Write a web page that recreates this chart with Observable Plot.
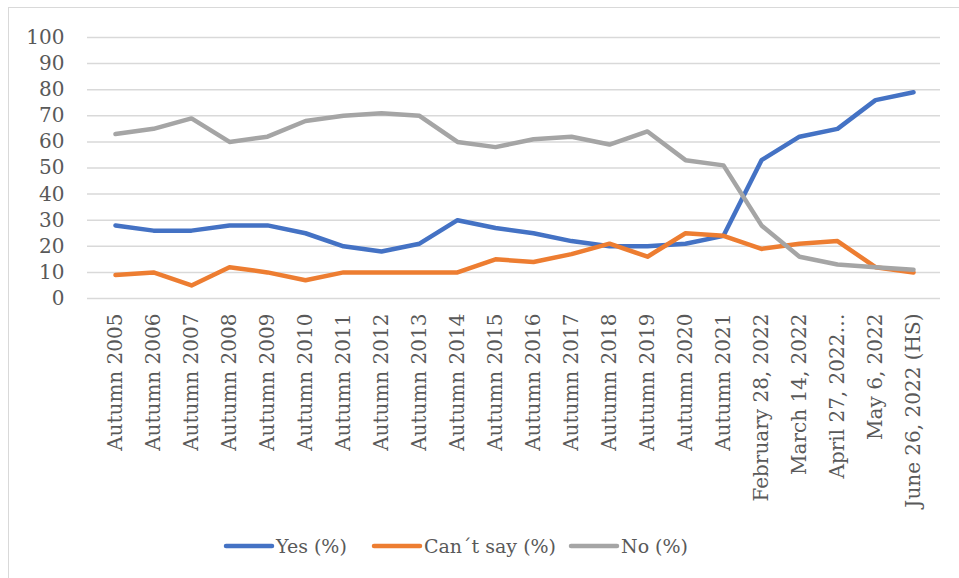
<!DOCTYPE html>
<html>
<head>
<meta charset="utf-8">
<script src="https://cdn.jsdelivr.net/npm/d3@7"></script>
<script src="https://cdn.jsdelivr.net/npm/@observablehq/plot@0.6"></script>
<style>
  html, body { margin: 0; padding: 0; background: #fff; }
  #wrap { position: relative; width: 959px; height: 578px; overflow: hidden; color: #595959; }
  #frameTop { position: absolute; left: 8px; top: 7px; width: 951px; height: 0; border-top: 1.5px solid #d9d9d9; }
  #frameLeft { position: absolute; left: 8px; top: 7px; width: 0; height: 571px; border-left: 1.5px solid #d9d9d9; }
  #chart { position: absolute; left: 0; top: 0; }
  #legend { position: absolute; left: 0; top: 525px; }
</style>
</head>
<body>
<div id="wrap">
  <div id="frameTop"></div>
  <div id="frameLeft"></div>
  <div id="chart"></div>
  <div id="legend"></div>
</div>
<script>
const categories = [
  "Autumn 2005", "Autumn 2006", "Autumn 2007", "Autumn 2008", "Autumn 2009",
  "Autumn 2010", "Autumn 2011", "Autumn 2012", "Autumn 2013", "Autumn 2014",
  "Autumn 2015", "Autumn 2016", "Autumn 2017", "Autumn 2018", "Autumn 2019",
  "Autumn 2020", "Autumn 2021", "February 28, 2022", "March 14, 2022",
  "April 27, 2022…", "May 6, 2022", "June 26, 2022 (HS)"
];
const yesValues     = [28, 26, 26, 28, 28, 25, 20, 18, 21, 30, 27, 25, 22, 20, 20, 21, 24, 53, 62, 65, 76, 79];
const cantSayValues = [9, 10, 5, 12, 10, 7, 10, 10, 10, 10, 15, 14, 17, 21, 16, 25, 24, 19, 21, 22, 12, 10];
const noValues      = [63, 65, 69, 60, 62, 68, 70, 71, 70, 60, 58, 61, 62, 59, 64, 53, 51, 28, 16, 13, 12, 11];
const seriesNames = ["Yes (%)", "Can´t say (%)", "No (%)"];
const seriesColors = ["#4472C4", "#ED7D31", "#A5A5A5"];
const yTicks = [0, 10, 20, 30, 40, 50, 60, 70, 80, 90, 100];

const seriesValues = [yesValues, cantSayValues, noValues];
const data = [];
seriesNames.forEach((name, s) => {
  categories.forEach((c, i) => data.push({series: name, category: c, value: seriesValues[s][i]}));
});

const chart = Plot.plot({
  width: 959,
  height: 525,
  marginLeft: 87,
  marginRight: 19,
  marginTop: 37,
  marginBottom: 227,
  style: { fontFamily: "DejaVu Serif, serif", fontSize: "20px", color: "#595959", background: "transparent", overflow: "visible" },
  x: { type: "point", domain: categories, padding: 0.5 },
  y: { domain: [0, 100] },
  color: { domain: seriesNames, range: seriesColors },
  marks: [
    Plot.ruleY(yTicks, { stroke: "#d9d9d9", strokeWidth: 1.5 }),
    Plot.axisY({ ticks: yTicks, tickSize: 0, tickPadding: 23, label: null, fontSize: 20 }),
    Plot.axisX({ tickSize: 0, tickPadding: 15, tickRotate: -90, label: null, fontSize: 20 }),
    Plot.line(data, {
      x: "category", y: "value", z: "series", stroke: "series",
      strokeWidth: 4.5, strokeLinejoin: "round", strokeLinecap: "round", curve: "linear"
    })
  ]
});
document.getElementById("chart").appendChild(chart);

// Legend as SVG, same font as the chart
const legendLeft = [224, 372, 569];
const lsvg = d3.select("#legend").append("svg")
  .attr("width", 959).attr("height", 53)
  .style("font-family", "DejaVu Serif, serif")
  .style("font-size", "19px");
seriesNames.forEach((name, i) => {
  const g = lsvg.append("g").attr("transform", `translate(${legendLeft[i]},21)`);
  g.append("line").attr("x1", 2).attr("x2", 48).attr("y1", 0).attr("y2", 0)
    .attr("stroke", seriesColors[i]).attr("stroke-width", 4.5).attr("stroke-linecap", "round");
  g.append("text").attr("x", 52).attr("y", 0).attr("dy", "0.35em")
    .attr("fill", "#595959").text(name);
});
</script>
</body>
</html>
